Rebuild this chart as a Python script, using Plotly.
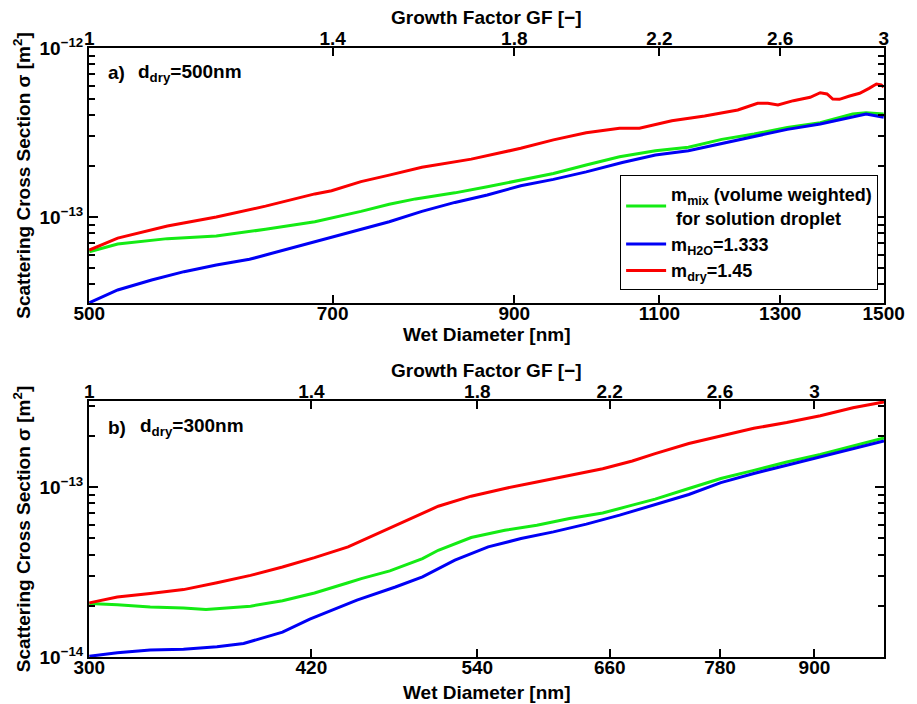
import numpy as np
import plotly.graph_objects as go

# ---- panel a) dry diameter 500 nm ----
d_dry_a = 500
a_mix_x = [500, 520, 557, 596, 638, 683, 728, 757, 785, 829, 867, 908, 950, 994, 1041, 1094,
           1145, 1199, 1254, 1313, 1374, 1437, 1464, 1500]
a_mix_y = [6.23e-14, 6.92e-14, 7.45e-14, 7.72e-14, 8.46e-14, 9.38e-14, 1.08e-13, 1.19e-13, 1.28e-13,
           1.39e-13, 1.51e-13, 1.66e-13, 1.81e-13, 2.03e-13, 2.27e-13, 2.47e-13, 2.59e-13, 2.88e-13,
           3.10e-13, 3.39e-13, 3.61e-13, 4.07e-13, 4.14e-13, 4.07e-13]
a_h2o_x = [500, 520, 545, 570, 596, 624, 638, 668, 699, 728, 757, 792, 829, 867, 908, 950, 994,
           1045, 1094, 1145, 1199, 1254, 1313, 1374, 1437, 1464, 1500]
a_h2o_y = [3.11e-14, 3.70e-14, 4.24e-14, 4.75e-14, 5.20e-14, 5.62e-14, 5.96e-14, 6.74e-14, 7.58e-14,
           8.46e-14, 9.38e-14, 1.08e-13, 1.22e-13, 1.35e-13, 1.53e-13, 1.67e-13, 1.85e-13, 2.10e-13,
           2.33e-13, 2.47e-13, 2.73e-13, 2.99e-13, 3.30e-13, 3.55e-13, 3.92e-13, 4.07e-13, 3.89e-13]
a_dry_x = [500, 520, 557, 596, 638, 683, 699, 728, 757, 792, 848, 908, 950, 994, 1041, 1070, 1119,
           1171, 1226, 1260, 1278, 1296, 1324, 1355, 1374, 1387, 1398, 1411, 1431, 1451, 1470, 1485,
           1495, 1500]
a_dry_y = [6.38e-14, 7.50e-14, 8.85e-14, 1.00e-13, 1.16e-13, 1.37e-13, 1.43e-13, 1.62e-13, 1.77e-13,
           1.97e-13, 2.20e-13, 2.55e-13, 2.86e-13, 3.15e-13, 3.35e-13, 3.35e-13, 3.71e-13, 3.96e-13,
           4.30e-13, 4.71e-13, 4.71e-13, 4.60e-13, 4.88e-13, 5.11e-13, 5.44e-13, 5.35e-13, 4.99e-13,
           4.97e-13, 5.20e-13, 5.40e-13, 5.77e-13, 6.12e-13, 6.04e-13, 5.86e-13]

# ---- panel b) dry diameter 300 nm ----
d_dry_b = 300
b_mix_x = [300, 313, 329, 346, 358, 383, 402, 422, 444, 453, 473, 497, 509, 535, 563, 591, 621,
           653, 683, 707, 744, 781, 821, 863, 908, 954, 1000]
b_mix_y = [2.06e-14, 2.03e-14, 1.97e-14, 1.94e-14, 1.90e-14, 1.99e-14, 2.14e-14, 2.38e-14, 2.73e-14,
           2.89e-14, 3.21e-14, 3.79e-14, 4.24e-14, 5.04e-14, 5.56e-14, 5.95e-14, 6.52e-14, 7.03e-14,
           7.81e-14, 8.47e-14, 9.79e-14, 1.12e-13, 1.25e-13, 1.40e-13, 1.55e-13, 1.74e-13, 1.94e-13]
b_h2o_x = [300, 313, 329, 346, 364, 379, 402, 419, 450, 477, 497, 522, 549, 577, 606, 637, 670,
           707, 744, 781, 821, 863, 908, 954, 1000]
b_h2o_y = [1.01e-14, 1.06e-14, 1.10e-14, 1.11e-14, 1.15e-14, 1.20e-14, 1.40e-14, 1.67e-14, 2.16e-14,
           2.58e-14, 2.96e-14, 3.71e-14, 4.44e-14, 4.97e-14, 5.44e-14, 6.04e-14, 6.82e-14, 7.88e-14,
           9.02e-14, 1.06e-13, 1.20e-13, 1.34e-13, 1.50e-13, 1.67e-13, 1.86e-13]
b_dry_x = [300, 313, 329, 346, 364, 383, 402, 422, 444, 453, 473, 497, 509, 535, 563, 591, 621,
           653, 683, 707, 744, 781, 821, 863, 908, 954, 1000]
b_dry_y = [2.08e-14, 2.25e-14, 2.36e-14, 2.49e-14, 2.73e-14, 3.02e-14, 3.38e-14, 3.84e-14, 4.44e-14,
           4.81e-14, 5.69e-14, 6.98e-14, 7.70e-14, 8.82e-14, 9.79e-14, 1.07e-13, 1.17e-13, 1.28e-13,
           1.42e-13, 1.57e-13, 1.80e-13, 2.00e-13, 2.21e-13, 2.39e-13, 2.62e-13, 2.92e-13, 3.16e-13]

# ---- axis ticks ----
a_wet_ticks = [500, 700, 900, 1100, 1300, 1500]
b_wet_ticks = [300, 420, 540, 660, 780, 900]
gf_ticks = [1, 1.4, 1.8, 2.2, 2.6, 3]
gf_labels = ["1", "1.4", "1.8", "2.2", "2.6", "3"]
a_sigma_ticks = [1e-13, 1e-12]
a_sigma_labels = ["10<sup>\u221213</sup>", "10<sup>\u221212</sup>"]
b_sigma_ticks = [1e-14, 1e-13]
b_sigma_labels = ["10<sup>\u221214</sup>", "10<sup>\u221213</sup>"]
a_sigma_minor = [k * 1e-14 for k in range(4, 10)] + [k * 1e-13 for k in range(2, 10)]
b_sigma_minor = [k * 1e-14 for k in range(2, 10)] + [2e-13, 3e-13]

labels = {
    "mix": "m<sub>mix</sub> (volume weighted)<br> for solution droplet",
    "h2o": "m<sub>H2O</sub>=1.333",
    "dry": "m<sub>dry</sub>=1.45",
}
colors = {"mix": "rgb(20,235,20)", "h2o": "rgb(0,0,245)", "dry": "rgb(250,0,0)"}

FONT = "Liberation Sans, Arial, Helvetica, sans-serif"
TICK_SIZE = 19
TITLE_SIZE = 19

fig = go.Figure()

series_a = [("mix", a_mix_x, a_mix_y), ("h2o", a_h2o_x, a_h2o_y), ("dry", a_dry_x, a_dry_y)]
series_b = [("mix", b_mix_x, b_mix_y), ("h2o", b_h2o_x, b_h2o_y), ("dry", b_dry_x, b_dry_y)]

for key, xs, ys in series_a:
    fig.add_trace(go.Scatter(x=xs, y=ys, mode="lines", name=labels[key],
                             line=dict(color=colors[key], width=3),
                             xaxis="x", yaxis="y", showlegend=True, legendgroup=key))
for key, xs, ys in series_b:
    fig.add_trace(go.Scatter(x=xs, y=ys, mode="lines", name=labels[key],
                             line=dict(color=colors[key], width=3),
                             xaxis="x2", yaxis="y2", showlegend=False))

# placeholder traces so the growth-factor axes get their own subplots
fig.add_trace(go.Scatter(x=[g * d_dry_a for g in gf_ticks], y=[None] * len(gf_ticks),
                         xaxis="x3", yaxis="y", showlegend=False, hoverinfo="skip"))
fig.add_trace(go.Scatter(x=[g * d_dry_b for g in gf_ticks], y=[None] * len(gf_ticks),
                         xaxis="x4", yaxis="y2", showlegend=False, hoverinfo="skip"))

eps = 2e-4
common_x = dict(type="log", showgrid=False, zeroline=False, showline=True, linecolor="black",
                linewidth=2, ticks="inside", ticklen=8, tickwidth=2, tickcolor="black",
                tickfont=dict(size=TICK_SIZE))
common_y = dict(type="log", showgrid=False, zeroline=False, showline=True, linecolor="black",
                linewidth=2, ticks="inside", ticklen=9, tickwidth=2, tickcolor="black",
                mirror="ticks", tickfont=dict(size=TICK_SIZE))


def minor_ticks(vals):
    return dict(tickmode="array", tickvals=vals, ticks="inside", ticklen=6, tickwidth=2,
                tickcolor="black", showgrid=False)


def y_title():
    return dict(text="Scattering Cross Section \u03c3 [m<sup>2</sup>]", standoff=4,
                font=dict(size=TITLE_SIZE))


a_range = [np.log10(500) - eps, np.log10(1500) + eps]
b_range = [np.log10(300) - eps, np.log10(1000)]

fig.update_layout(
    width=917, height=704,
    margin=dict(l=89, r=21, t=48, b=47),
    paper_bgcolor="white", plot_bgcolor="white",
    font=dict(family=FONT, size=TICK_SIZE, color="black", weight="bold"),
    xaxis=dict(common_x, domain=[0, 1], anchor="y", range=a_range, ticklabelstandoff=-8,
               tickvals=a_wet_ticks, ticktext=[str(v) for v in a_wet_ticks]),
    xaxis3=dict(common_x, overlaying="x", anchor="y", side="top", range=a_range,
                ticklabelstandoff=-7,
                tickvals=[g * d_dry_a for g in gf_ticks], ticktext=gf_labels),
    yaxis=dict(common_y, domain=[0.5813, 1], anchor="x",
               range=[np.log10(3.1e-14), -12], tickvals=a_sigma_ticks, ticktext=a_sigma_labels,
               minor=minor_ticks(a_sigma_minor), title=y_title()),
    xaxis2=dict(common_x, domain=[0, 1], anchor="y2", range=b_range, ticklabelstandoff=-8,
                tickvals=b_wet_ticks, ticktext=[str(v) for v in b_wet_ticks]),
    xaxis4=dict(common_x, overlaying="x2", anchor="y2", side="top", range=b_range,
                ticklabelstandoff=-7,
                tickvals=[g * d_dry_b for g in gf_ticks], ticktext=gf_labels),
    yaxis2=dict(common_y, domain=[0, 0.4204], anchor="x2",
                range=[-14, np.log10(3.2e-13)], tickvals=b_sigma_ticks, ticktext=b_sigma_labels,
                minor=minor_ticks(b_sigma_minor), title=y_title()),
    legend=dict(x=0.9926, y=0.7915, xanchor="right", yanchor="top",
                bgcolor="white", bordercolor="black", borderwidth=1,
                font=dict(size=18), traceorder="normal", tracegroupgap=2, itemwidth=40),
    showlegend=True,
)

# x-axis titles, placed tight against their tick labels
axis_titles = [
    (1.0493, "Growth Factor GF [\u2212]"),
    (0.530, "Wet Diameter [nm]"),
    (0.470, "Growth Factor GF [\u2212]"),
    (-0.059, "Wet Diameter [nm]"),
]
for yv, txt in axis_titles:
    fig.add_annotation(xref="paper", yref="paper", x=0.5, y=yv, text=txt, showarrow=False,
                       xanchor="center", yanchor="middle", font=dict(size=TITLE_SIZE))

panel_notes = [
    ("x domain", "y domain", 0.022, 0.902, "a)"),
    ("x domain", "y domain", 0.059, 0.902, "d<sub>dry</sub>=500nm"),
    ("x2 domain", "y2 domain", 0.022, 0.897, "b)"),
    ("x2 domain", "y2 domain", 0.062, 0.897, "d<sub>dry</sub>=300nm"),
]
for xr, yr, xv, yv, txt in panel_notes:
    fig.add_annotation(xref=xr, yref=yr, x=xv, y=yv, text=txt, showarrow=False,
                       xanchor="left", yanchor="middle", font=dict(size=19))

fig.write_html("out.html")
